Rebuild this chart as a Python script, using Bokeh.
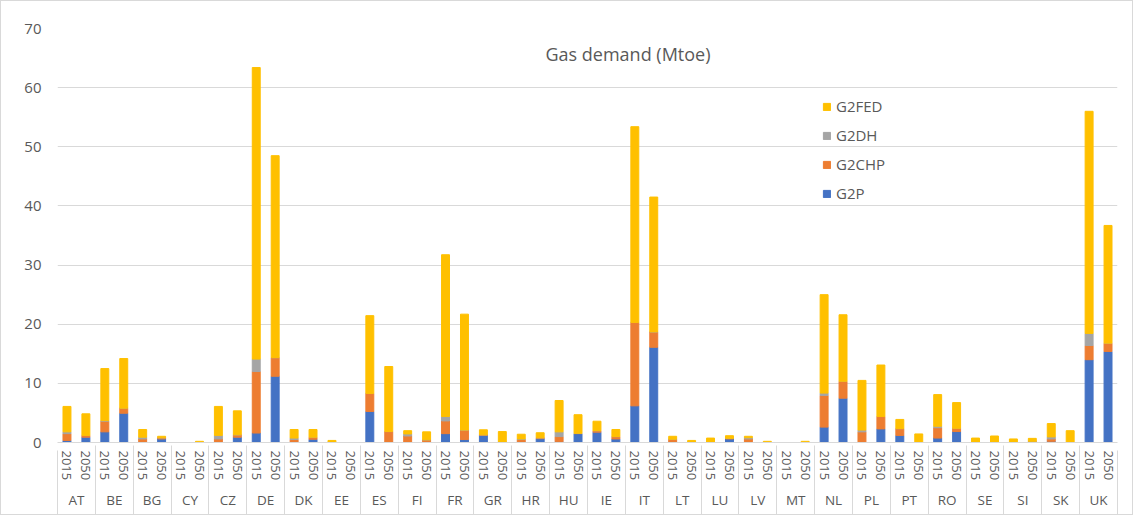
from bokeh.plotting import figure
from bokeh.models import (FactorRange, Range1d, Label, ColumnDataSource, FixedTicker,
                          LinearAxis)
from bokeh.embed import file_html
from bokeh.resources import INLINE

countries = ["AT", "BE", "BG", "CY", "CZ", "DE", "DK", "EE", "ES", "FI", "FR", "GR", "HR", "HU",
             "IE", "IT", "LT", "LU", "LV", "MT", "NL", "PL", "PT", "RO", "SE", "SI", "SK", "UK"]
years = ["2015", "2050"]
series = ["G2P", "G2CHP", "G2DH", "G2FED"]
colors = ["#4472C4", "#ED7D31", "#A5A5A5", "#FFC000"]

# values per (country, year), order: AT2015, AT2050, BE2015, ...
g2p = [0.35, 0.9, 1.8, 4.95, 0.1, 0.6, 0, 0, 0.1, 0.9, 1.6, 11.2, 0.1, 0.55, 0, 0,
       5.25, 0.1, 0, 0, 1.5, 0.5, 1.2, 0, 0.1, 0.65, 0.15, 1.5, 1.75, 0.6, 6.2, 16.1,
       0.1, 0, 0, 0.6, 0, 0, 0, 0, 2.6, 7.5, 0, 2.3, 1.2, 0, 0.75, 1.85, 0, 0, 0, 0,
       0.2, 0, 14.0, 15.4]
g2chp = [1.15, 0.3, 1.8, 0.85, 0.5, 0.2, 0, 0, 0.5, 0.4, 10.4, 3.15, 0.4, 0.35, 0, 0,
         3.05, 1.75, 1.1, 0.45, 2.15, 1.6, 0.1, 0.1, 0.4, 0.15, 0.85, 0.05, 0.25, 0.4, 14.1, 2.6,
         0.45, 0, 0.05, 0.1, 0.6, 0, 0, 0, 5.35, 2.85, 1.8, 2.1, 1.15, 0, 1.75, 0.55, 0, 0, 0, 0.2,
         0.4, 0, 2.4, 1.4]
g2dh = [0.3, 0, 0.1, 0, 0.3, 0, 0, 0, 0.6, 0, 2.1, 0, 0.25, 0, 0, 0,
        0, 0, 0.35, 0, 0.75, 0, 0, 0, 0.1, 0, 0.8, 0, 0, 0, 0, 0,
        0, 0, 0, 0, 0.2, 0, 0, 0, 0.4, 0, 0.3, 0, 0, 0, 0.25, 0, 0, 0, 0, 0,
        0.35, 0, 2.05, 0]
g2fed = [4.3, 3.65, 8.8, 8.4, 1.3, 0.25, 0, 0.2, 4.9, 4.05, 49.3, 34.15, 1.45, 1.3, 0.35, 0,
         13.15, 11.0, 0.55, 1.35, 27.35, 19.6, 0.85, 1.75, 0.8, 0.85, 5.3, 3.15, 1.6, 1.2, 33.1, 22.8,
         0.5, 0.35, 0.7, 0.45, 0.25, 0.2, 0, 0.2, 16.65, 11.25, 8.4, 8.7, 1.55, 1.45, 5.35, 4.35,
         0.75, 1.1, 0.6, 0.5, 2.25, 2.0, 37.55, 19.9]
y_ticks = [0, 10, 20, 30, 40, 50, 60, 70]
title_text = "Gas demand (Mtoe)"

FONT = "Open Sans"
TXT = "#595959"
LINE = "#d9d9d9"

x = [(c, y) for c in countries for y in years]
src = ColumnDataSource(dict(x=x, G2P=g2p, G2CHP=g2chp, G2DH=g2dh, G2FED=g2fed))

p = figure(x_range=FactorRange(*x, group_padding=0, range_padding=0, factor_padding=0),
           y_range=Range1d(0, 70), width=1133, height=515,
           output_backend="svg", toolbar_location=None,
           min_border_left=56, min_border_right=17, min_border_top=27, min_border_bottom=74)
p.styles = {"border": "1px solid #d9d9d9"}

p.vbar_stack(series, x="x", width=0.42, color=colors, source=src, legend_label=series)

leg = p.legend[0]
leg.items = list(reversed(leg.items))
leg.location = (765, 239)
leg.border_line_color = None
leg.background_fill_alpha = 0
leg.padding = 0
leg.margin = 0
leg.spacing = 9
leg.label_height = 20
leg.glyph_width = 9
leg.glyph_height = 9
leg.label_standoff = 5
leg.label_text_font_size = "15px"
leg.label_text_color = TXT
leg.label_text_font = FONT

p.yaxis.ticker = FixedTicker(ticks=y_ticks)
p.yaxis.axis_line_color = None
p.yaxis.major_tick_line_color = None
p.yaxis.minor_tick_line_color = None
p.yaxis.major_tick_out = 0
p.yaxis.major_label_standoff = 16
p.yaxis.major_label_text_font_size = "15px"
p.yaxis.major_label_text_color = TXT
p.yaxis.major_label_text_font = FONT

xax = p.xaxis[0]
xax.axis_line_color = LINE
xax.major_tick_line_color = None
xax.minor_tick_line_color = None
xax.major_tick_out = 0
xax.major_label_standoff = 8
xax.major_label_orientation = "vertical"
xax.major_label_text_font_size = "13px"
xax.major_label_text_color = TXT
xax.major_label_text_font = FONT
xax.group_text_font_size = "13.5px"
xax.group_text_color = TXT
xax.group_text_font = FONT
xax.group_text_font_style = "normal"
xax.separator_line_color = LINE
xax.separator_line_width = 1

# label-less second axis on the same categorical range: ticks on the country
# boundaries (synthetic positions) extend the group separators down through the labels
n_sub = len(years)
sep_axis = LinearAxis(ticker=FixedTicker(ticks=list(range(0, n_sub * len(countries) + 1, n_sub))),
                      major_tick_in=62, major_tick_out=2,
                      major_tick_line_color=LINE, minor_tick_line_color=None,
                      axis_line_color=None,
                      major_label_text_color=None,
                      major_label_text_font_size="1px", major_label_standoff=0)
p.add_layout(sep_axis, "below")

p.xgrid.grid_line_color = None
p.ygrid.grid_line_color = LINE
p.outline_line_color = None

p.add_layout(Label(x=570.5, y=389, x_units="screen", y_units="screen", text=title_text,
                   text_align="center", text_baseline="middle", text_font_size="18px",
                   text_color=TXT, text_font=FONT))

open("out.html", "w").write(file_html(p, INLINE))
